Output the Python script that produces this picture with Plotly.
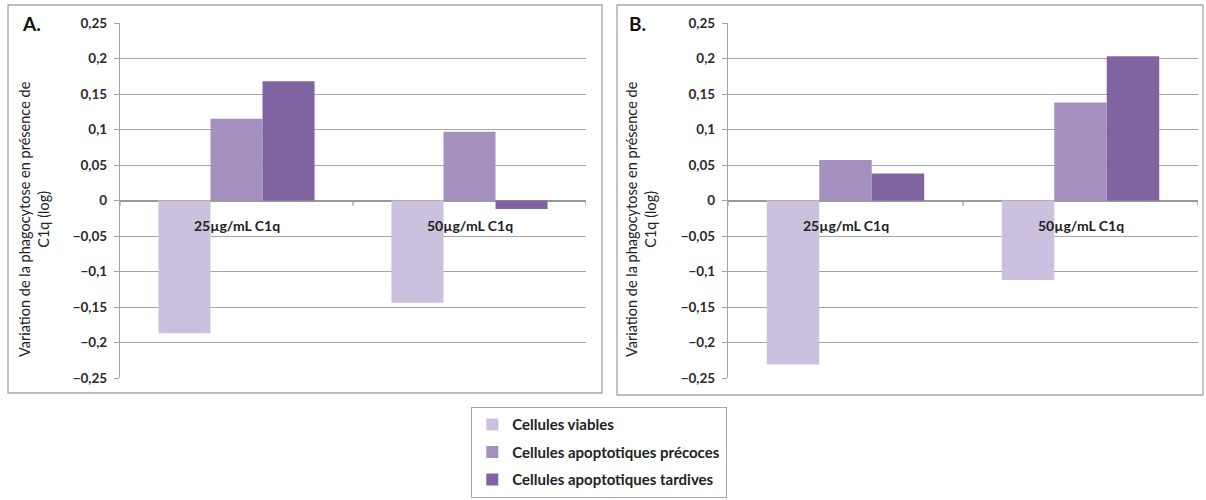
import plotly.graph_objects as go

categories = ["25µg/mL C1q", "50µg/mL C1q"]
series_names = ["Cellules viables", "Cellules apoptotiques précoces", "Cellules apoptotiques tardives"]
colors = ["#CBC0DD", "#A591BF", "#8064A2"]

# Panel A
a_viables = [-0.187, -0.144]
a_precoces = [0.115, 0.097]
a_tardives = [0.168, -0.012]
# Panel B
b_viables = [-0.231, -0.112]
b_precoces = [0.057, 0.138]
b_tardives = [0.038, 0.203]

y_ticks = [-0.25, -0.2, -0.15, -0.1, -0.05, 0, 0.05, 0.1, 0.15, 0.2, 0.25]
y_title = "Variation de la phagocytose en présence de<br>C1q (log)"

W, H = 1206, 500
FONT = "Lato"

fig = go.Figure()

panels = [
    ("x", "y", [a_viables, a_precoces, a_tardives], True),
    ("x2", "y2", [b_viables, b_precoces, b_tardives], False),
]
for xa, ya, data, show in panels:
    for name, vals, col in zip(series_names, data, colors):
        fig.add_trace(go.Bar(
            x=categories, y=vals, name=name, marker=dict(color=col, line=dict(width=0)),
            xaxis=xa, yaxis=ya, showlegend=show, legendgroup=name,
        ))

def px_x(p):
    return p / W

def px_y(p):
    return 1 - p / H

axis_common_y = dict(
    range=[-0.25, 0.25], tickvals=y_ticks, tickformat=",.2~f",
    showgrid=True, gridcolor="#A6A6A6", gridwidth=1.3,
    showline=True, linecolor="#A6A6A6", linewidth=1.3,
    ticks="outside", ticklen=5, tickcolor="#A6A6A6", tickwidth=1.3,
    tickfont=dict(family=FONT, size=13.5, color="#2a2a2a", weight="bold"),
    ticklabelstandoff=4,
    zeroline=True, zerolinecolor="#999999", zerolinewidth=1.5,
    domain=[px_y(378), px_y(23)], fixedrange=True,
)
axis_common_x = dict(showticklabels=False, showgrid=False, showline=False, ticks="", zeroline=False,
                     range=[-0.5, 1.5], fixedrange=True)

fig.update_layout(
    width=W, height=H,
    margin=dict(l=0, r=0, t=0, b=0, autoexpand=False),
    paper_bgcolor="white", plot_bgcolor="white",
    separators=", ",
    barmode="group", bargap=0.33, bargroupgap=0,
    font=dict(family=FONT, color="#222222"),
    xaxis=dict(domain=[px_x(120), px_x(586)], anchor="y", **axis_common_x),
    yaxis=dict(anchor="x", **axis_common_y),
    xaxis2=dict(domain=[px_x(728), px_x(1198)], anchor="y2", **axis_common_x),
    yaxis2=dict(anchor="x2", **axis_common_y),
    legend=dict(
        x=px_x(471), y=px_y(407), xanchor="left", yanchor="top",
        bordercolor="#A6A6A6", borderwidth=1.3, bgcolor="white",
        font=dict(family=FONT, size=15, color="#222222", weight="bold"),
        traceorder="grouped", tracegroupgap=5, itemwidth=30,
    ),
)

# panel frames
fig.add_shape(type="rect", xref="paper", yref="paper", x0=px_x(8), x1=px_x(602), y0=px_y(393), y1=px_y(5),
              line=dict(color="#A6A6A6", width=1.3), layer="below")
fig.add_shape(type="rect", xref="paper", yref="paper", x0=px_x(617), x1=px_x(1203), y0=px_y(395), y1=px_y(5),
              line=dict(color="#A6A6A6", width=1.3), layer="below")

# category tick marks on the zero line
for xa, ya in [("x", "y"), ("x2", "y2")]:
    for b in [-0.5, 0.5, 1.5]:
        fig.add_shape(type="line", xref=xa, yref=ya, x0=b, x1=b, y0=0, y1=-0.007,
                      line=dict(color="#999999", width=1.3))
    for c in categories:
        fig.add_annotation(x=c, y=0, xref=xa, yref=ya, text=c, showarrow=False, yshift=-25,
                           font=dict(family=FONT, size=14, color="#222222", weight="bold"))

# panel letters
fig.add_annotation(x=px_x(20), y=px_y(23), xref="paper", yref="paper", text="<b>A.</b>", showarrow=False,
                   xanchor="left", yanchor="middle", font=dict(family=FONT, size=19, color="#111111"))
fig.add_annotation(x=px_x(627), y=px_y(23), xref="paper", yref="paper", text="<b>B.</b>", showarrow=False,
                   xanchor="left", yanchor="middle", font=dict(family=FONT, size=19, color="#111111"))

# y titles
for xp in [34, 641]:
    fig.add_annotation(x=px_x(xp), y=px_y(219), xref="paper", yref="paper", text=y_title, showarrow=False,
                       textangle=-90, xanchor="center", yanchor="middle",
                       font=dict(family=FONT, size=14.5, color="#222222"))

fig.write_html("out.html", config={"displayModeBar": False},
               post_script="document.body.style.margin='0px';document.body.style.overflow='hidden';")
